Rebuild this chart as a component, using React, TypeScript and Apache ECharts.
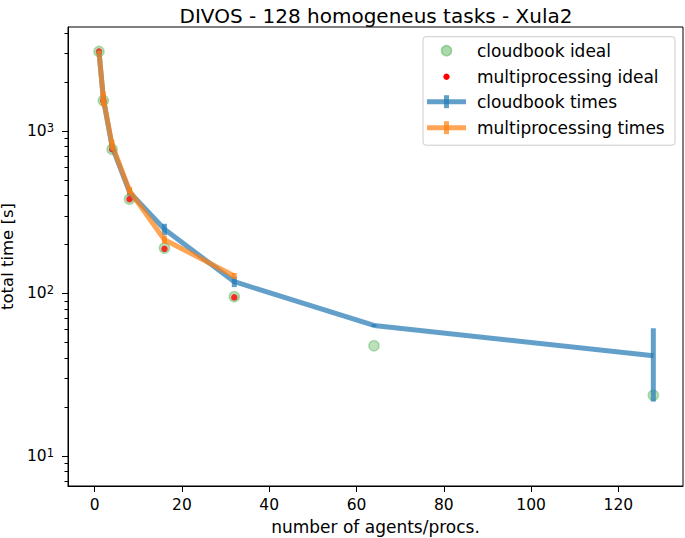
import React, { useEffect, useRef } from "react";
import * as echarts from "echarts";

// ---- data ----
const procs = [1, 2, 4, 8, 16, 32, 64, 128];
const mpProcs = [1, 2, 4, 8, 16, 32];
const cloudbookIdeal = [3080, 1535, 770, 380, 190, 95.5, 47.6, 23.6];
const mpIdeal = [3080, 1535, 770, 380, 188, 94.5];
const cloudbookTimes = [3080, 1570, 800, 420, 248, 118, 63.5, 41.3];
const cloudbookErr = [50, 80, 40, 20, 20, 8.7, 1.2, 19.7];
const mpTimes = [3070, 1580, 820, 428, 214, 128];
const mpErr = [60, 160, 60, 24, 12, 5.5];

const xTicks = [0, 20, 40, 60, 80, 100, 120];
const yMajor = [10, 100, 1000];
const yMinor = [7, 8, 9, 20, 30, 40, 50, 60, 70, 80, 90, 200, 300, 400, 500, 600, 700, 800, 900, 2000, 3000, 4000];

const titleText = "DIVOS - 128 homogeneus tasks - Xula2";
const xName = "number of agents/procs.";
const yName = "total time [s]";
const legendLabels = ["cloudbook ideal", "multiprocessing ideal", "cloudbook times", "multiprocessing times"];

const FONT = "DejaVu Sans";
const GREEN = "rgba(44,160,44,0.4)";
const RED = "#ff0000";
const BLUE = "rgba(31,119,180,0.7)";
const ORANGE = "rgba(255,127,14,0.7)";

function errSeries(name: string, xs: number[], ys: number[], es: number[], color: string, z: number) {
  return {
    type: "custom",
    name,
    z,
    data: xs.map((x, i) => [x, ys[i] - es[i], ys[i] + es[i]]),
    encode: { x: 0, y: [1, 2] },
    renderItem: (_p: any, api: any) => {
      const lo = api.coord([api.value(0), api.value(1)]);
      const hi = api.coord([api.value(0), api.value(2)]);
      return {
        type: "line",
        shape: { x1: lo[0], y1: lo[1], x2: hi[0], y2: hi[1] },
        style: { stroke: color, lineWidth: 5, lineCap: "butt" },
      };
    },
  };
}

export default function App() {
  const ref = useRef<HTMLDivElement>(null);
  useEffect(() => {
    if (!ref.current) return;
    const chart = echarts.init(ref.current, undefined, { renderer: "svg" });

    const lgX = 423, lgY = 36.7, rowY = [50.7, 76.7, 101.7, 127.7];
    const handleCx = 446.5;
    const legendGraphics: any[] = [
      {
        type: "rect",
        shape: { x: lgX, y: lgY, width: 252, height: 108.5, r: 3 },
        style: { fill: "rgba(255,255,255,0.8)", stroke: "#cccccc", lineWidth: 1 },
        z: 100,
      },
      { type: "circle", shape: { cx: handleCx, cy: rowY[0], r: 5.1 }, style: { fill: GREEN, stroke: GREEN, lineWidth: 1.4 }, z: 101 },
      { type: "circle", shape: { cx: handleCx, cy: rowY[1], r: 3.2 }, style: { fill: RED }, z: 101 },
      { type: "line", shape: { x1: 427, y1: rowY[2], x2: 466, y2: rowY[2] }, style: { stroke: BLUE, lineWidth: 5 }, z: 101 },
      { type: "line", shape: { x1: handleCx, y1: rowY[2] - 6.5, x2: handleCx, y2: rowY[2] + 6.5 }, style: { stroke: BLUE, lineWidth: 5 }, z: 101 },
      { type: "line", shape: { x1: 427, y1: rowY[3], x2: 466, y2: rowY[3] }, style: { stroke: ORANGE, lineWidth: 5 }, z: 101 },
      { type: "line", shape: { x1: handleCx, y1: rowY[3] - 6.5, x2: handleCx, y2: rowY[3] + 6.5 }, style: { stroke: ORANGE, lineWidth: 5 }, z: 101 },
      ...legendLabels.map((t, i) => ({
        type: "text",
        x: 477,
        y: rowY[i],
        style: { text: t, font: `17px '${FONT}'`, fill: "#000", verticalAlign: "middle" },
        z: 101,
      })),
      {
        type: "text",
        x: 376,
        y: 15.5,
        style: { text: titleText, font: `20px '${FONT}'`, fill: "#000", align: "center", verticalAlign: "middle" },
      },
    ];

    const axisTextStyle = { color: "#000", fontFamily: FONT, fontSize: 15.5 };

    chart.setOption({
      animation: false,
      backgroundColor: "#fff",
      grid: {
        left: 68, right: 2, top: 27, bottom: 52,
        outerBoundsMode: "none",
        containLabel: false,
        show: true, borderColor: "#000", borderWidth: 1, backgroundColor: "transparent",
      },
      xAxis: {
        type: "value",
        min: -6.1,
        max: 134.8,
        splitLine: { show: false },
        axisLine: { show: true, onZero: false, lineStyle: { color: "#000", width: 1 } },
        axisTick: { show: true, length: 6, lineStyle: { color: "#000" }, customValues: xTicks },
        axisLabel: { ...axisTextStyle, margin: 11, customValues: xTicks },
        name: xName,
        nameLocation: "middle",
        nameGap: 32,
        nameTextStyle: { color: "#000", fontFamily: FONT, fontSize: 17 },
      },
      yAxis: [
        {
          type: "log",
          logBase: 10,
          min: 6.53,
          max: 4355,
          splitLine: { show: false },
          axisLine: { show: true, onZero: false, lineStyle: { color: "#000", width: 1 } },
          axisTick: { show: true, length: 6, lineStyle: { color: "#000" }, customValues: yMajor },
          axisLabel: {
            margin: 14,
            customValues: yMajor,
            formatter: (v: number) => "{b|10}{s|" + Math.round(Math.log10(v)) + "}",
            rich: {
              b: { color: "#000", fontFamily: FONT, fontSize: 15.5, lineHeight: 18 },
              s: { color: "#000", fontFamily: FONT, fontSize: 11.5, lineHeight: 11.5, verticalAlign: "top" },
            },
          },
          name: yName,
          nameLocation: "middle",
          nameGap: 45,
          nameTextStyle: { color: "#000", fontFamily: FONT, fontSize: 16.5, lineHeight: 17 },
        },
        {
          type: "log",
          logBase: 10,
          min: 6.53,
          max: 4355,
          position: "left",
          splitLine: { show: false },
          axisLine: { show: false, onZero: false },
          axisTick: { show: true, length: 3.5, lineStyle: { color: "#000" }, customValues: yMinor },
          axisLabel: { show: false, customValues: yMinor },
        },
      ],
      graphic: legendGraphics,
      series: [
        {
          type: "scatter",
          name: legendLabels[0],
          z: 2,
          symbol: "circle",
          symbolSize: 10.3,
          itemStyle: { color: GREEN, borderColor: GREEN, borderWidth: 1.4 },
          data: procs.map((x, i) => [x, cloudbookIdeal[i]]),
        },
        {
          type: "scatter",
          name: legendLabels[1],
          z: 3,
          symbol: "circle",
          symbolSize: 6.5,
          itemStyle: { color: RED },
          data: mpProcs.map((x, i) => [x, mpIdeal[i]]),
        },
        {
          type: "line",
          name: legendLabels[2],
          z: 4,
          symbol: "none",
          lineStyle: { color: BLUE, width: 5 },
          itemStyle: { color: BLUE },
          data: procs.map((x, i) => [x, cloudbookTimes[i]]),
        },
        errSeries(legendLabels[2], procs, cloudbookTimes, cloudbookErr, BLUE, 4),
        {
          type: "line",
          name: legendLabels[3],
          z: 5,
          symbol: "none",
          lineStyle: { color: ORANGE, width: 5 },
          itemStyle: { color: ORANGE },
          data: mpProcs.map((x, i) => [x, mpTimes[i]]),
        },
        errSeries(legendLabels[3], mpProcs, mpTimes, mpErr, ORANGE, 5),
      ],
    });
    return () => chart.dispose();
  }, []);
  return <div ref={ref} style={{ position: "fixed", left: 0, top: 0, width: 685, height: 538 }} />;
}
